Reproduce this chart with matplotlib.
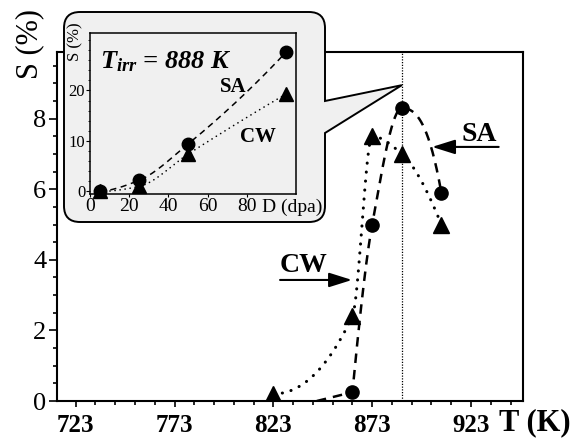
import matplotlib
matplotlib.use("Agg")
import matplotlib.pyplot as plt
import numpy as np
from matplotlib.path import Path
from matplotlib.patches import PathPatch
from matplotlib.ticker import FixedLocator, MultipleLocator

plt.rcParams["font.family"] = ["Liberation Serif", "DejaVu Serif"]
plt.rcParams["mathtext.fontset"] = "custom"
plt.rcParams["mathtext.it"] = "Liberation Serif:italic:bold"
plt.rcParams["mathtext.rm"] = "Liberation Serif:bold"

# main panel: swelling vs irradiation temperature
sa_temp = [863, 873, 888, 908]
sa_swell = [0.25, 5.0, 8.3, 5.9]
sa_tail = [845, 0.0]  # where the SA curve leaves the axis
cw_temp = [823, 863, 873, 888, 908]
cw_swell = [0.2, 2.4, 7.5, 7.0, 5.0]
t_irr = 888
x_major = [723, 773, 823, 873, 923]

# inset: swelling vs dose at 888 K
sa_dose = [5, 25, 50, 100]
sa_dose_swell = [0.0, 2.2, 9.4, 27.6]
cw_dose = [5, 25, 50, 100]
cw_dose_swell = [0.0, 1.0, 7.4, 19.3]

W, H = 576, 438


def pchip(x, y, xs):
    x = np.asarray(x, float)
    y = np.asarray(y, float)
    h = np.diff(x)
    d = np.diff(y) / h
    n = len(x)
    m = np.zeros(n)
    for k in range(1, n - 1):
        if d[k - 1] * d[k] > 0:
            w1 = 2 * h[k] + h[k - 1]
            w2 = h[k] + 2 * h[k - 1]
            m[k] = (w1 + w2) / (w1 / d[k - 1] + w2 / d[k])

    def end(h0, h1, d0, d1):
        mm = ((2 * h0 + h1) * d0 - h0 * d1) / (h0 + h1)
        if np.sign(mm) != np.sign(d0):
            mm = 0.0
        elif np.sign(d0) != np.sign(d1) and abs(mm) > 3 * abs(d0):
            mm = 3 * d0
        return mm

    m[0] = end(h[0], h[1], d[0], d[1])
    m[-1] = end(h[-1], h[-2], d[-1], d[-2])
    idx = np.clip(np.searchsorted(x, xs) - 1, 0, n - 2)
    t = (xs - x[idx]) / h[idx]
    hh = h[idx]
    return (y[idx] * (2 * t**3 - 3 * t**2 + 1) + hh * m[idx] * (t**3 - 2 * t**2 + t)
            + y[idx + 1] * (-2 * t**3 + 3 * t**2) + hh * m[idx + 1] * (t**3 - t**2))


def smooth(x, y):
    xs = np.linspace(x[0], x[-1], 300)
    return xs, pchip(x, y, xs)


def px(x, y):
    return x / W, 1 - y / H


fig = plt.figure(figsize=(5.76, 4.38), dpi=100)
ax = fig.add_axes([56.5 / W, 1 - 401 / H, 466.5 / W, 349 / H])
ax.set_xlim(713.3, 949.3)
ax.set_ylim(0, 9.89)

xs, ys = smooth(sa_temp, sa_swell)
ax.plot([sa_tail[0]] + list(xs), [sa_tail[1]] + list(ys), color="black", lw=1.8,
        dashes=[3.8, 2.8], zorder=3)
xs, ys = smooth(cw_temp, cw_swell)
ax.plot(xs, ys, color="black", lw=2.2, linestyle=(0, (0.05, 2.9)),
        dash_capstyle="round", zorder=3)
ax.plot(sa_temp, sa_swell, "o", color="black", ms=9.5, zorder=4)
ax.plot(cw_temp, cw_swell, "^", color="black", ms=11, zorder=4)
ax.axvline(t_irr, color="black", lw=0.9, linestyle=(0, (1, 1.2)), zorder=2)

ax.xaxis.set_major_locator(FixedLocator(x_major))
ax.xaxis.set_minor_locator(FixedLocator([v for v in range(733, 949, 10) if v not in x_major]))
ax.yaxis.set_major_locator(MultipleLocator(2))
ax.yaxis.set_minor_locator(MultipleLocator(0.5))
ax.tick_params(axis="x", which="major", length=4.5, width=1.2, pad=5, labelsize=18)
ax.tick_params(axis="x", which="minor", length=3, width=1.2)
ax.tick_params(axis="y", which="major", length=5.8, width=1.2, pad=1.5, labelsize=19)
ax.tick_params(axis="y", which="minor", length=2.9, width=1.2)
for lab in ax.get_xticklabels():
    lab.set_fontweight("bold")
for s in ax.spines.values():
    s.set_linewidth(1.5)

fig.text(535 / W, 1 - 423 / H, "T (K)", fontsize=22, fontweight="bold",
         ha="center", va="center")
fig.text(30 / W, 1 - 44 / H, "S (%)", fontsize=22, rotation=90,
         ha="center", va="center")

arrow = dict(arrowstyle="-|>,head_length=0.7,head_width=0.22", lw=1.5,
             color="black", shrinkA=0, shrinkB=0, mutation_scale=20)
ax.annotate("", xy=(903.3, 7.2), xytext=(937.0, 7.2), arrowprops=arrow)
ax.text(936.2, 7.55, "SA", fontsize=20, fontweight="bold", ha="right", va="center")
ax.annotate("", xy=(862.8, 3.43), xytext=(826.4, 3.43), arrowprops=arrow)
ax.text(826.4, 3.85, "CW", fontsize=20, fontweight="bold", ha="left", va="center")

# callout box behind the inset
tip = fig.transFigure.inverted().transform(ax.transData.transform((t_irr, 8.95)))
L, R, T, B, r = 64, 325, 12, 222, 16
pts = [
    (px(L + r, T), Path.MOVETO),
    (px(R - r, T), Path.LINETO),
    (px(R, T), Path.CURVE3), (px(R, T + r), Path.CURVE3),
    (px(R, 101), Path.LINETO),
    (tuple(tip), Path.LINETO),
    (px(R, 133), Path.LINETO),
    (px(R, B - r), Path.LINETO),
    (px(R, B), Path.CURVE3), (px(R - r, B), Path.CURVE3),
    (px(L + r, B), Path.LINETO),
    (px(L, B), Path.CURVE3), (px(L, B - r), Path.CURVE3),
    (px(L, T + r), Path.LINETO),
    (px(L, T), Path.CURVE3), (px(L + r, T), Path.CURVE3),
    (px(L + r, T), Path.CLOSEPOLY),
]
box = PathPatch(Path([p for p, _ in pts], [c for _, c in pts]), facecolor="#f0f0f0",
                edgecolor="black", lw=1.4, transform=fig.transFigure, zorder=2)
fig.add_artist(box)

ax_in = fig.add_axes([90 / W, 1 - 194 / H, 206 / W, 160.7 / H], zorder=3)
ax_in.set_facecolor("#f0f0f0")
ax_in.set_xlim(0, 105)
ax_in.set_ylim(-0.5, 31.3)
xs, ys = smooth(sa_dose, sa_dose_swell)
ax_in.plot(xs, ys, color="black", lw=1.1, dashes=[4, 3])
xs, ys = smooth(cw_dose, cw_dose_swell)
ax_in.plot(xs, ys, color="black", lw=1.2, linestyle=(0, (0.05, 3)), dash_capstyle="round")
ax_in.plot(sa_dose, sa_dose_swell, "o", color="black", ms=9, zorder=4, clip_on=False)
ax_in.plot(cw_dose, cw_dose_swell, "^", color="black", ms=9.5, zorder=4, clip_on=False)
ax_in.set_xticks([0, 20, 40, 60, 80])
ax_in.set_yticks([0, 10, 20])
ax_in.yaxis.set_minor_locator(MultipleLocator(2))
ax_in.tick_params(axis="x", length=2, pad=1, labelsize=14)
ax_in.tick_params(axis="y", which="major", length=3, pad=0.5, labelsize=12)
ax_in.tick_params(axis="y", which="minor", length=1.5)
for s in ax_in.spines.values():
    s.set_linewidth(1.1)
ax_in.text(103, -0.03, "D (dpa)", fontsize=14, ha="center", va="top",
           transform=ax_in.get_xaxis_transform())
ax_in.text(-0.07, 0.95, "S (%)", fontsize=12, rotation=90, ha="center", va="center",
           transform=ax_in.transAxes)
ax_in.text(0.049, 0.784, r"$T_{irr}$ = 888 K", fontsize=19, fontweight="bold",
           style="italic", ha="left", va="baseline", transform=ax_in.transAxes)
ax_in.text(0.694, 0.666, "SA", fontsize=15, fontweight="bold", ha="center", va="center",
           transform=ax_in.transAxes)
ax_in.text(0.816, 0.355, "CW", fontsize=15, fontweight="bold", ha="center", va="center",
           transform=ax_in.transAxes)

fig.savefig("out.png", dpi=100)
